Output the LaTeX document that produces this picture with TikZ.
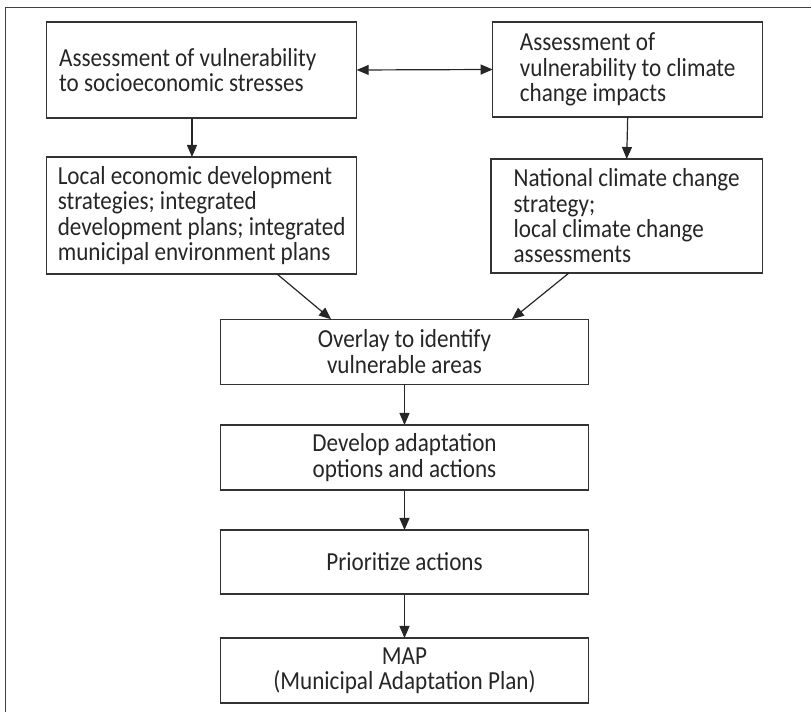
\documentclass[tikz,border=0pt]{standalone}
\usepackage{fontspec}
\setmainfont[FakeStretch=0.89]{Carlito}
\usetikzlibrary{arrows.meta}

\begin{document}
\begin{tikzpicture}[
            x=0.75pt, y=-0.75pt,
            blk/.style={draw=black!80, line width=0.9pt, minimum width=#1,
                inner sep=0pt, outer sep=0pt, align=center, text=black!85,
                font=\fontsize{19.5}{19}\selectfont},
            blk/.default=276pt,
            flow/.style={draw=black!85, line width=0.9pt,
                -{Triangle[length=9pt,width=7.5pt]}}
        ]
        \useasboundingbox (0,0) rectangle (811,712);
        \draw[black!75, line width=1.3pt] (5.5,712) -- (5.5,7.5) -- (811,7.5);

        \node[blk=232.5pt, minimum height=72pt, text width=213.75pt, align=flush left]
            (socio) at (201.7,70) {Assessment of vulnerability\\to socioeconomic stresses};
        \node[blk=202.5pt, minimum height=71.25pt, align=flush left]
            (climate) at (627.7,69.5) {Assessment of\\vulnerability to climate\\change impacts};
        \node[blk=232.5pt, minimum height=87.75pt, align=flush left]
            (local) at (201.7,215.5) {Local economic development\\strategies; integrated\\development plans; integrated\\municipal environment plans};
        \node[blk=203.6pt, minimum height=85.5pt, align=flush left]
            (national) at (626.7,216) {National climate change\\strategy;\\local climate change\\assessments};
        \node[blk, minimum height=48.75pt] (overlay) at (404.5,351.7) {Overlay to identify\\vulnerable areas};
        \node[blk, minimum height=48.75pt] (develop) at (404.5,457.5) {Develop adaptation\\options and actions};
        \node[blk, minimum height=48pt] (prior) at (404.5,562) {Prioritize actions};
        \node[blk, minimum height=48.75pt] (map) at (404.5,670.5) {MAP\\(Municipal Adaptation Plan)};

        \draw[flow, {Triangle[length=9pt,width=7.5pt]}-{Triangle[length=9pt,width=7.5pt]}]
            (socio.east) -- (climate.west);
        \draw[flow] ([xshift=-7.3pt]socio.south) -- ([xshift=-7.3pt]local.north);
        \draw[flow] (climate.south) -- (national.north);
        \draw[flow] ([xshift=56.5pt]local.south) -- ([xshift=-55.1pt]overlay.north);
        \draw[flow] ([xshift=-43.3pt]national.south) -- ([xshift=80.6pt]overlay.north);
        \draw[flow] (overlay) -- (develop);
        \draw[flow] (develop) -- (prior);
        \draw[flow] (prior) -- (map);
    \end{tikzpicture}
\end{document}
